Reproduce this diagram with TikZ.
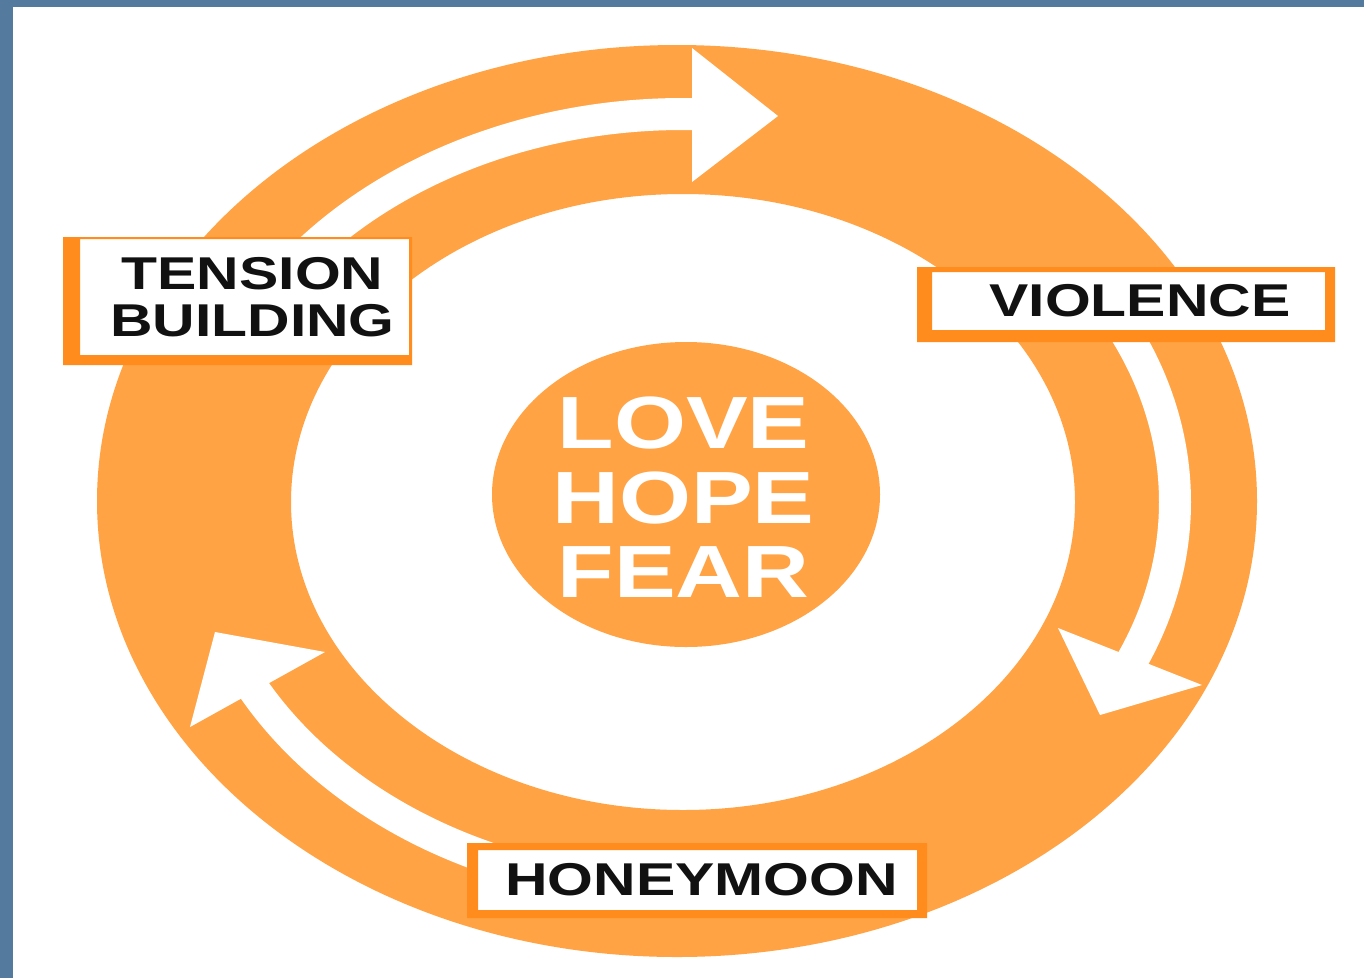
\documentclass[tikz,border=0pt]{standalone}
\usepackage{fontspec}
\newfontfamily\labelfont[FakeStretch=1.28]{Liberation Sans}
\newfontfamily\corefont[FakeStretch=1.25]{Liberation Sans}
\definecolor{ringorange}{RGB}{255,163,68}
\definecolor{boxedge}{RGB}{255,140,28}
\definecolor{barblue}{RGB}{84,123,157}
\definecolor{ink}{RGB}{17,17,17}
\begin{document}
\begin{tikzpicture}[x=1pt,y=-1pt,
  shaft/.style={draw=white, line width=32pt, line cap=butt},
  head/.style={fill=white},
  stagebox/.style={fill=white, inner sep=0pt, outer sep=0pt, text=ink,
    font=\labelfont\bfseries\fontsize{46}{47}\selectfont, align=center},
  coretext/.style={text=white, inner sep=0pt, align=center,
    font=\corefont\bfseries\fontsize{74}{74.5}\selectfont}]
\useasboundingbox (0,0) rectangle (1364,978);
\fill[white] (0,0) rectangle (1364,978);
% page edge bars
\fill[barblue] (0,0) rectangle (13,978);
\fill[barblue] (0,0) rectangle (1364,7);

% the cycle ring
\coordinate (ctr) at (683,502);
\fill[ringorange, even odd rule]
  (677,501) ellipse [x radius=580, y radius=456]
  (683,502) ellipse [x radius=392, y radius=308];

% curved arrows inside the ring
\draw[shaft] ([shift={(-142:490 and 388)}]ctr)
  arc[start angle=-142, end angle=-88, x radius=490, y radius=388];
\fill[head] (692,48) -- (778,116) -- (692,182) -- cycle;

\draw[shaft] ([shift={(-30:492 and 388)}]ctr)
  arc[start angle=-30, end angle=25, x radius=492, y radius=388];
\fill[head] (1058,628) -- (1202,685) -- (1100,715) -- cycle;

\draw[shaft] ([shift={(110:490 and 388)}]ctr)
  arc[start angle=110, end angle=153, x radius=490, y radius=388];
\fill[head] (215,632) -- (325,652) -- (190,727) -- cycle;

% centre disc
\fill[ringorange] (686,494.5) ellipse [x radius=194, y radius=152.5];
\node[coretext] (core) at (683.5,497.5) {LOVE\\HOPE\\FEAR};

% stage labels
\node[stagebox, minimum width=329pt, minimum height=116pt] (tension) at (244.5,297)
  {\hspace*{16pt}TENSION\\\hspace*{16pt}BUILDING};
\fill[boxedge, even odd rule]
  ([shift={(-17,-2)}]tension.north west) rectangle ([shift={(3,10)}]tension.south east)
  (tension.north west) rectangle (tension.south east);

\node[stagebox, minimum width=393pt, minimum height=58pt] (violence) at (1128.5,301)
  {\hspace*{23pt}VIOLENCE};
\fill[boxedge, even odd rule]
  ([shift={(-15,-5)}]violence.north west) rectangle ([shift={(10,12)}]violence.south east)
  (violence.north west) rectangle (violence.south east);

\node[stagebox, minimum width=439pt, minimum height=60pt] (honeymoon) at (697.5,880)
  {\hspace*{8pt}HONEYMOON};
\fill[boxedge, even odd rule]
  ([shift={(-11,-7)}]honeymoon.north west) rectangle ([shift={(10,8)}]honeymoon.south east)
  (honeymoon.north west) rectangle (honeymoon.south east);
\end{tikzpicture}
\end{document}
